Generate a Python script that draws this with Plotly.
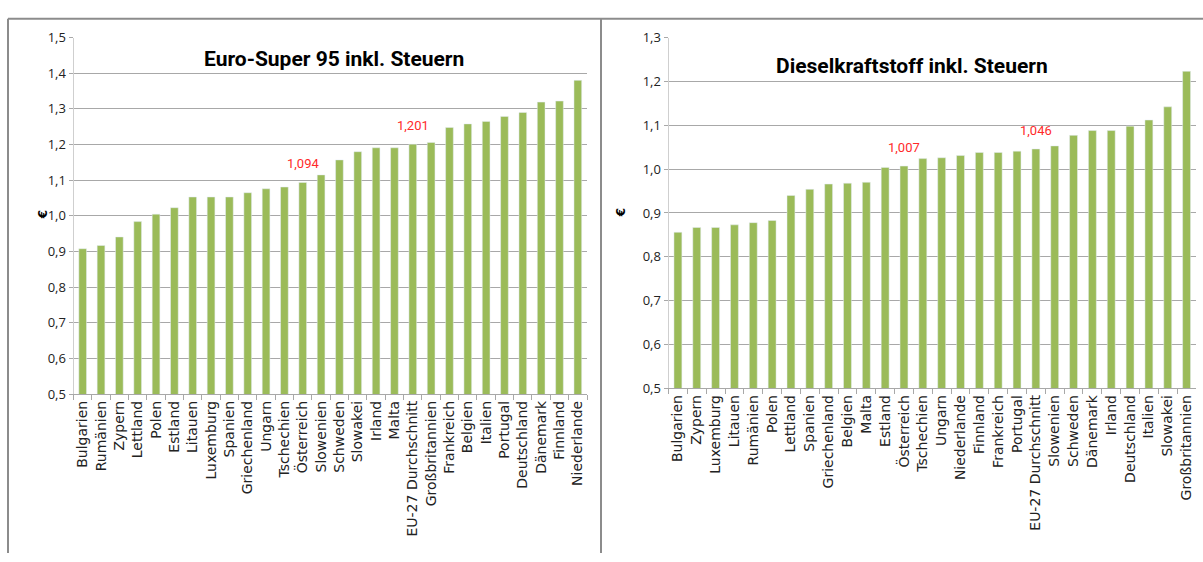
import plotly.graph_objects as go

# Euro-Super 95 prices incl. taxes (EUR per litre)
petrol_countries = [
    "Bulgarien", "Rumänien", "Zypern", "Lettland", "Polen", "Estland", "Litauen",
    "Luxemburg", "Spanien", "Griechenland", "Ungarn", "Tschechien", "Österreich",
    "Slowenien", "Schweden", "Slowakei", "Irland", "Malta", "EU-27 Durchschnitt",
    "Großbritannien", "Frankreich", "Belgien", "Italien", "Portugal", "Deutschland",
    "Dänemark", "Finnland", "Niederlande",
]
petrol_values = [
    0.908, 0.917, 0.941, 0.984, 1.005, 1.023, 1.053,
    1.053, 1.053, 1.065, 1.076, 1.081, 1.094,
    1.115, 1.157, 1.180, 1.191, 1.191, 1.201,
    1.206, 1.248, 1.258, 1.265, 1.279, 1.290,
    1.319, 1.322, 1.380,
]

# Diesel prices incl. taxes (EUR per litre)
diesel_countries = [
    "Bulgarien", "Zypern", "Luxemburg", "Litauen", "Rumänien", "Polen", "Lettland",
    "Spanien", "Griechenland", "Belgien", "Malta", "Estland", "Österreich",
    "Tschechien", "Ungarn", "Niederlande", "Finnland", "Frankreich", "Portugal",
    "EU-27 Durchschnitt", "Slowenien", "Schweden", "Dänemark", "Irland",
    "Deutschland", "Italien", "Slowakei", "Großbritannien",
]
diesel_values = [
    0.856, 0.867, 0.867, 0.873, 0.878, 0.883, 0.940,
    0.954, 0.966, 0.968, 0.970, 1.004, 1.007,
    1.024, 1.026, 1.031, 1.038, 1.038, 1.041,
    1.046, 1.053, 1.077, 1.088, 1.088,
    1.098, 1.112, 1.142, 1.223,
]

highlighted = ["Österreich", "EU-27 Durchschnitt"]

petrol_title = "Euro-Super 95 inkl. Steuern"
diesel_title = "Dieselkraftstoff inkl. Steuern"
petrol_ticks = [0.5, 0.6, 0.7, 0.8, 0.9, 1.0, 1.1, 1.2, 1.3, 1.4, 1.5]
diesel_ticks = [0.5, 0.6, 0.7, 0.8, 0.9, 1.0, 1.1, 1.2, 1.3]

W, H = 1203, 562
BAR = "#9BBB59"
GRID = "#a8a8a8"
FRAME = "#8c8c8c"
XTICKFONT = dict(family="DejaVu Sans, sans-serif", size=14, color="#222222")
YTICKFONT = dict(family="Open Sans, DejaVu Sans, sans-serif", size=13, color="#222222")
TITLEFONT = dict(family="Roboto, sans-serif", size=21, color="#000000")
LABELFONT = dict(family="Roboto, sans-serif", size=13, color="#ff2a2a")


def px(x):
    return x / W


def py(y):
    return 1 - y / H


fig = go.Figure()
fig.add_trace(go.Bar(x=petrol_countries, y=petrol_values, marker_color=BAR,
                     xaxis="x", yaxis="y", showlegend=False))
fig.add_trace(go.Bar(x=diesel_countries, y=diesel_values, marker_color=BAR,
                     xaxis="x2", yaxis="y2", showlegend=False))


def xaxis_style(domain, anchor):
    return dict(
        domain=domain, anchor=anchor, type="category",
        tickson="boundaries", ticks="outside", ticklen=5, tickcolor=GRID,
        tickangle=-90, tickfont=XTICKFONT, showline=True, linecolor=GRID,
        showgrid=False, fixedrange=True,
    )


def yaxis_style(domain, anchor, rng, ticks):
    return dict(
        domain=domain, anchor=anchor, range=rng, tickvals=ticks,
        tickformat=".1f", ticks="outside", ticklen=4, tickcolor=GRID,
        tickfont=YTICKFONT, showgrid=True, gridcolor=GRID, gridwidth=1,
        showline=True, linecolor="#cfcfcf", zeroline=False, fixedrange=True,
    )


annotations = []
for countries, values, xa, ya in [
    (petrol_countries, petrol_values, "x", "y"),
    (diesel_countries, diesel_values, "x2", "y2"),
]:
    for name in highlighted:
        v = values[countries.index(name)]
        annotations.append(dict(
            x=name, y=v, xref=xa, yref=ya, text=f"{v:.3f}".replace(".", ","),
            showarrow=False, yanchor="bottom", yshift=9, font=LABELFONT,
        ))

annotations += [
    dict(x=px(334), y=py(52), xref="paper", yref="paper", text=f"<b>{petrol_title}</b>",
         showarrow=False, font=TITLEFONT, xanchor="center", yanchor="middle"),
    dict(x=px(912), y=py(59), xref="paper", yref="paper", text=f"<b>{diesel_title}</b>",
         showarrow=False, font=TITLEFONT, xanchor="center", yanchor="middle"),
    dict(x=px(34), y=py(213), xref="paper", yref="paper", text="<b>€</b>", textangle=-90,
         showarrow=False, font=dict(family="DejaVu Sans", size=12, color="#000")),
    dict(x=px(621), y=py(211), xref="paper", yref="paper", text="<b>€</b>", textangle=-90,
         showarrow=False, font=dict(family="DejaVu Sans", size=12, color="#000")),
]

frame = dict(type="line", xref="paper", yref="paper", line=dict(color=FRAME, width=2))
shapes = [
    dict(frame, x0=px(8), x1=px(W), y0=py(10), y1=py(10)),
    dict(frame, x0=px(8), x1=px(8), y0=py(10), y1=0),
    dict(frame, x0=px(601), x1=px(601), y0=py(10), y1=0),
]

fig.update_layout(
    width=W, height=H, margin=dict(l=0, r=0, t=0, b=0),
    paper_bgcolor="white", plot_bgcolor="white",
    separators=", ", bargap=0.58,
    xaxis=xaxis_style([px(73.5), px(587)], "y"),
    yaxis=yaxis_style([py(398), py(29.5)], "x", [0.5, 1.5], petrol_ticks),
    xaxis2=xaxis_style([px(668.5), px(1196)], "y2"),
    yaxis2=yaxis_style([py(392), py(29.5)], "x2", [0.5, 1.3], diesel_ticks),
    annotations=annotations, shapes=shapes,
)

fig.write_html("out.html")
